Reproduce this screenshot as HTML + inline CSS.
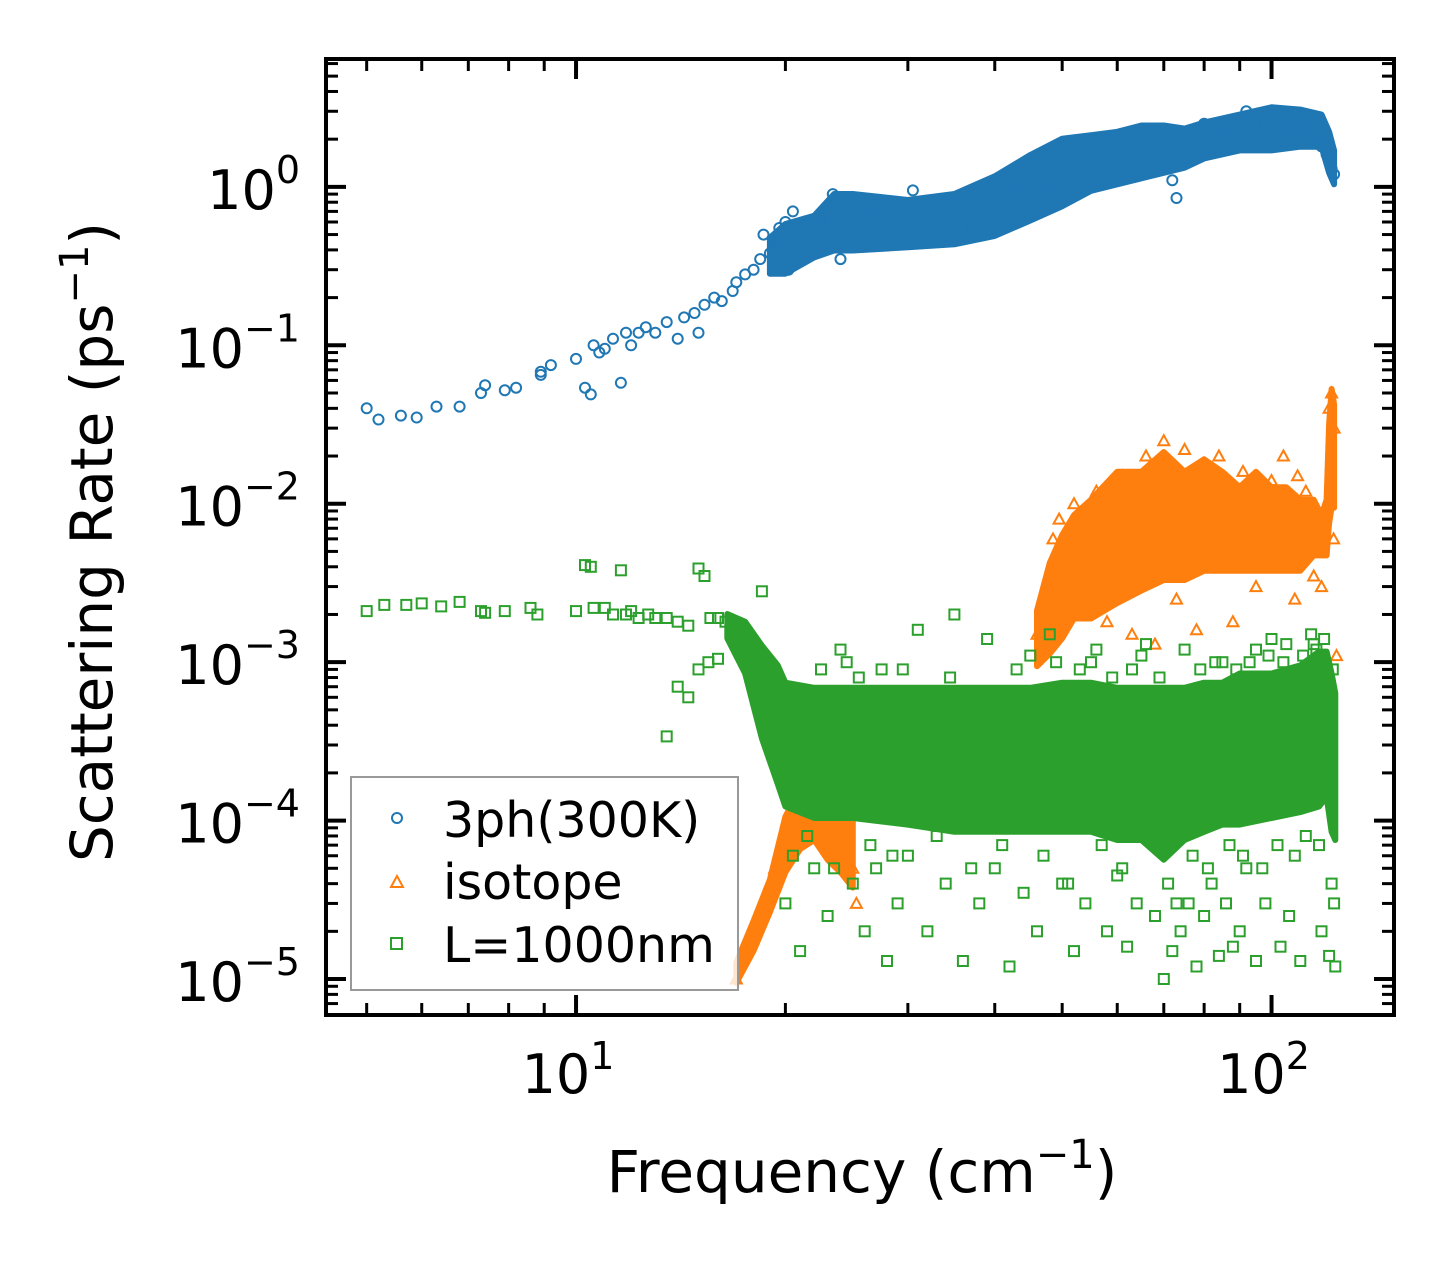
<!DOCTYPE html>
<html><head><meta charset="utf-8"><style>
html,body{margin:0;padding:0;background:#fff}
svg{display:block;font-family:"DejaVu Sans","Liberation Sans",sans-serif}
</style></head><body>
<svg id="chart" width="1455" height="1265" viewBox="0 0 1455 1265" xmlns="http://www.w3.org/2000/svg">
<defs><clipPath id="clip"><rect x="326" y="59" width="1068" height="956"/></clipPath></defs>
<rect width="1455" height="1265" fill="#fff"/>
<g id="marks" clip-path="url(#clip)"></g>
<g id="axes"></g>
<g>
<rect x="351" y="777" width="387" height="213" fill="#fff" fill-opacity="0.8" stroke="#999" stroke-width="2"/>
<circle cx="397" cy="818" r="5" fill="none" stroke="#1f77b4" stroke-width="2"/>
<text x="443" y="837" font-size="49">3ph(300K)</text>
<path d="M391 887 L397 876 L403 887 Z" fill="none" stroke="#ff7f0e" stroke-width="2"/>
<text x="443" y="899" font-size="49">isotope</text>
<rect x="391" y="938" width="11" height="11" fill="none" stroke="#2ca02c" stroke-width="2"/>
<text x="443" y="962" font-size="49">L=1000nm</text>
</g>
<text x="862" y="1192" font-size="58" text-anchor="middle">Frequency (cm<tspan dy="-24" font-size="40">−1</tspan><tspan dy="24">)</tspan></text>
<text transform="translate(112,542) rotate(-90)" font-size="58" text-anchor="middle">Scattering Rate (ps<tspan dy="-24" font-size="40">−1</tspan><tspan dy="24">)</tspan></text>
</svg>
<script>
const blueFreq=[5.0,5.2,5.6,5.9,6.3,6.8,7.3,7.4,7.9,8.2,8.9,8.9,9.2,10.0,10.3,10.5,10.6,10.8,11.0,11.3,11.6,11.8,12.0,12.3,12.6,13.0,13.5,14.0,14.3,14.8,15.0,15.3,15.8,16.2,16.8,17.0,17.5,18.0,18.4,18.6,19.0,19.3,19.6,20.0,20.2,20.5,20.8,21.0,21.5,22.0,22.5,23.0,23.4,23.8,24.0,24.5,25.0,26.0,26.5,27.0,28.0,29.0,30.0,30.5,31.0,32.0,33.0,34.0,35.0,36.0,37.0,38.0,39.0,40.0,41.0,42.0,43.0,44.0,45.0,46.0,47.0,48.0,50,52,54,55,57,58,60,62,64,65,67,70,72,73,75,78,80,82,85,88,90,92,95,98,100,103,105,108,110,113,116,118,120,122,123,121];
const blueRate=[0.040,0.034,0.036,0.035,0.041,0.041,0.050,0.056,0.052,0.054,0.065,0.068,0.075,0.082,0.054,0.049,0.10,0.09,0.095,0.11,0.058,0.12,0.10,0.12,0.13,0.12,0.14,0.11,0.15,0.16,0.12,0.18,0.20,0.19,0.22,0.25,0.28,0.30,0.35,0.50,0.38,0.45,0.55,0.60,0.30,0.70,0.45,0.40,0.50,0.45,0.60,0.70,0.90,0.55,0.35,0.60,0.65,0.55,0.70,0.75,0.65,0.70,0.60,0.95,0.55,0.70,0.50,0.60,0.65,0.80,0.55,0.70,0.60,0.75,0.90,0.85,1.0,0.80,1.2,1.0,0.95,1.1,1.2,1.5,1.4,1.7,1.3,1.2,1.5,1.8,2.0,1.6,2.2,1.9,1.1,0.85,1.8,2.2,2.5,2.0,2.3,2.1,2.5,3.0,2.6,2.4,2.8,2.5,2.2,2.6,2.3,2.4,2.0,1.8,1.6,1.3,1.2,1.5];
const blueBandFreq=[19,20,22,23.5,25,30,35,40,45,50,55,60,65,70,75,80,90,100,110,118,121,123];
const blueBandLow=[0.30,0.30,0.38,0.42,0.42,0.44,0.46,0.52,0.65,0.80,1.0,1.1,1.2,1.3,1.4,1.6,1.8,1.8,1.9,1.9,1.3,1.1];
const blueBandHigh=[0.45,0.55,0.62,0.85,0.85,0.78,0.85,1.1,1.5,1.9,2.0,2.1,2.3,2.3,2.2,2.4,2.7,3.0,2.9,2.7,2.1,1.6];

const orangeFreq=[17.0,17.3,17.6,18.0,18.3,18.6,19.0,19.3,19.6,20.0,20.3,20.6,21.0,21.5,22.0,22.5,23.0,23.5,24.0,24.5,25.0,25.3,46,47,48.5,49.5,52,56,61,66,70,72,75,80,84,91,100,104,109,112,118,121,122,123,122.8,124,58,63,68,73,78,88,95,108,115];
const orangeRate=[1e-5,1.3e-5,1.6e-5,2e-5,2.5e-5,3e-5,4e-5,5e-5,6e-5,8e-5,1e-4,1.2e-4,1.5e-4,1e-4,2e-4,1.5e-4,2.5e-4,1.2e-4,3e-4,8e-5,5e-5,3e-5,1.5e-3,1.2e-3,6e-3,8e-3,1e-2,1.2e-2,1.5e-2,2e-2,2.5e-2,1.5e-2,2.2e-2,1.8e-2,2e-2,1.6e-2,1.4e-2,2e-2,1.5e-2,1.2e-2,3e-3,4e-2,5e-2,3e-2,6e-3,1.1e-3,1.8e-3,1.5e-3,1.3e-3,2.5e-3,1.6e-3,1.8e-3,3e-3,2.5e-3,3.5e-3];
const orangeBandFreq=[17,18,19,20,21,22,23,24,25,46,48,50,52,55,60,65,70,75,80,85,90,95,100,105,110,115,118,120,121,122,123];
const orangeBandLow=[1e-5,1.6e-5,2.8e-5,5e-5,7e-5,8e-5,6e-5,5e-5,4e-5,1.0e-3,1.2e-3,1.5e-3,2e-3,2e-3,2.5e-3,3e-3,3.5e-3,3.5e-3,4e-3,4e-3,4e-3,4e-3,4e-3,4e-3,4e-3,5e-3,5e-3,5e-3,8e-3,1e-2,1e-2];
const orangeBandHigh=[1.2e-5,2.2e-5,4e-5,1e-4,1.5e-4,2e-4,2.5e-4,3e-4,3e-4,2e-3,4e-3,6e-3,8e-3,1e-2,1.5e-2,1.5e-2,2e-2,1.5e-2,1.8e-2,1.5e-2,1.2e-2,1.5e-2,1.2e-2,1.2e-2,1e-2,1e-2,8e-3,1e-2,3e-2,5e-2,4e-2];

const greenFreq=[5.0,5.3,5.7,6.0,6.4,6.8,7.3,7.4,7.9,8.6,8.8,10.0,10.3,10.5,10.6,11.0,11.3,11.6,11.8,12.0,12.3,12.7,13.0,13.5,14.0,14.5,15.0,15.3,15.6,16.0,16.4,16.8,17.2,17.6,18.0,18.5,13.5,14.0,14.5,15.0,15.5,16.0,
19.5,20.0,21,22,23,24,25,26,27,28,29,30,32,34,36,38,40,42,44,46,48,50,52,54,56,58,60,62,64,66,68,70,72,74,76,78,80,82,84,86,88,90,92,95,98,100,103,106,110,114,118,121,123,123.5,
24.5,27.5,31,35,39,45,55,65,75,85,95,105,115,
20.5,21.5,23.5,26.5,28.5,33,37,41,47,51,57,61,67,71,73,77,81,87,91,97,102,108,112,117,122,
22.5,25.5,29.5,34.5,43,49,53,59,63,69,79,83,89,93,99,104,111,116,119,122.5];
const greenRate=[2.1e-3,2.3e-3,2.3e-3,2.35e-3,2.25e-3,2.4e-3,2.1e-3,2.05e-3,2.1e-3,2.2e-3,2.0e-3,2.1e-3,4.1e-3,4.0e-3,2.2e-3,2.2e-3,2.0e-3,3.8e-3,2.0e-3,2.1e-3,1.9e-3,2.0e-3,1.9e-3,1.9e-3,1.8e-3,1.7e-3,3.9e-3,3.5e-3,1.9e-3,1.9e-3,1.8e-3,1.6e-3,1.5e-3,1.3e-3,1.2e-3,2.8e-3,3.4e-4,7e-4,6e-4,9e-4,1.0e-3,1.05e-3,
2.2e-4,3e-5,1.5e-5,5e-5,2.5e-5,1.2e-3,4e-5,2e-5,5e-5,1.3e-5,3e-5,6e-5,2e-5,4e-5,1.3e-5,3e-5,5e-5,1.2e-5,3.5e-5,2e-5,1.5e-3,4e-5,1.5e-5,3e-5,1.2e-3,2e-5,4.5e-5,1.6e-5,3e-5,1.3e-3,2.5e-5,1.0e-5,1.5e-5,2e-5,3e-5,1.2e-5,2.5e-5,4e-5,1.4e-5,3e-5,1.6e-5,2e-5,5e-5,1.3e-5,3e-5,1.4e-3,1.6e-5,2.5e-5,1.3e-5,1.5e-3,2e-5,1.4e-5,3e-5,1.2e-5,
1e-3,9e-4,1.6e-3,2e-3,1.4e-3,1.1e-3,1.0e-3,1.1e-3,1.2e-3,1.0e-3,1.2e-3,1.3e-3,1.3e-3,
6e-5,8e-5,5e-5,7e-5,6e-5,8e-5,5e-5,7e-5,6e-5,4e-5,7e-5,5e-5,8e-5,4e-5,3e-5,6e-5,5e-5,7e-5,6e-5,5e-5,7e-5,6e-5,8e-5,7e-5,4e-5,
9e-4,8e-4,9e-4,8e-4,9e-4,1e-3,9e-4,8e-4,9e-4,8e-4,9e-4,1e-3,9e-4,1e-3,1.1e-3,1e-3,1.1e-3,1.2e-3,1.4e-3,9e-4];
const greenBandFreq=[16.5,17.5,18.5,19.5,20,22,25,30,35,40,45,50,55,60,65,70,75,80,85,90,100,110,117,120,122,123.5];
const greenBandLow=[1.5e-3,9e-4,3.5e-4,1.8e-4,1.3e-4,1.1e-4,1.1e-4,1e-4,9e-5,9e-5,9e-5,9e-5,9e-5,8e-5,8e-5,6e-5,8e-5,9e-5,1e-4,1e-4,1.1e-4,1.2e-4,1.3e-4,1.5e-4,9e-5,8e-5];
const greenBandHigh=[1.9e-3,1.7e-3,1.2e-3,9e-4,7e-4,6.5e-4,6.5e-4,6.5e-4,6.5e-4,6.5e-4,6.5e-4,7e-4,7e-4,6.5e-4,6.5e-4,6.5e-4,6.5e-4,7e-4,7e-4,8e-4,8e-4,9e-4,1.1e-3,1.1e-3,8e-4,6e-4];

const NS='http://www.w3.org/2000/svg';
const X0=326,X1=1394,Y0=59,Y1=1015;
const LX0=Math.log10(4.37),LX1=Math.log10(150);
const LY0=-5.227,LY1=0.807;
function xs(v){return X0+(Math.log10(v)-LX0)/(LX1-LX0)*(X1-X0);}
function ys(v){return Y1-(Math.log10(v)-LY0)/(LY1-LY0)*(Y1-Y0);}
const marks=document.getElementById('marks');
const axes=document.getElementById('axes');
function mk(tag,attrs,parent){const e=document.createElementNS(NS,tag);for(const k in attrs)e.setAttribute(k,attrs[k]);parent.appendChild(e);return e;}
function band(fr,lo,hi,color,parent,pad){
  let segs=[[]];
  fr.forEach((f,i)=>{const s=segs[segs.length-1];if(s.length&&f/fr[i-1]>1.5)segs.push([]);segs[segs.length-1].push(i);});
  return segs.map(s=>{
    let d='';
    s.forEach((i,k)=>{d+=(k?'L':'M')+xs(fr[i]).toFixed(1)+' '+(ys(hi[i])-pad).toFixed(1);});
    for(let k=s.length-1;k>=0;k--){const i=s[k];d+='L'+xs(fr[i]).toFixed(1)+' '+(ys(lo[i])+pad).toFixed(1);}
    d+='Z';
    return mk('path',{d:d,fill:color,stroke:color,'stroke-width':6,'stroke-linejoin':'round'},parent);
  });
}
function dots(fr,val,draw,name){
  fr.forEach((f,i)=>{const v=val[i];if(v===undefined)return;const e=draw(xs(f),ys(v));
    
    });
}
band(blueBandFreq,blueBandLow,blueBandHigh,'#1f77b4',marks,4).forEach(p=>{
  
  });
dots(blueFreq,blueRate,(x,y)=>mk('circle',{cx:x.toFixed(1),cy:y.toFixed(1),r:5,fill:'none',stroke:'#1f77b4','stroke-width':2},marks),'point-3ph');
band(orangeBandFreq,orangeBandLow,orangeBandHigh,'#ff7f0e',marks,4).forEach(p=>{
  
  });
dots(orangeFreq,orangeRate,(x,y)=>mk('path',{d:`M${(x-5.5).toFixed(1)} ${(y+4.5).toFixed(1)} L${x.toFixed(1)} ${(y-5.5).toFixed(1)} L${(x+5.5).toFixed(1)} ${(y+4.5).toFixed(1)} Z`,fill:'none',stroke:'#ff7f0e','stroke-width':2},marks),'point-isotope');
band(greenBandFreq,greenBandLow,greenBandHigh,'#2ca02c',marks,4).forEach(p=>{
  
  });
dots(greenFreq,greenRate,(x,y)=>mk('rect',{x:(x-5).toFixed(1),y:(y-5).toFixed(1),width:10,height:10,fill:'none',stroke:'#2ca02c','stroke-width':2},marks),'point-boundary');

const fr=mk('rect',{x:X0,y:Y0,width:X1-X0,height:Y1-Y0,fill:'none',stroke:'#000','stroke-width':4},axes);


const xMajor=[10,100];
const xMajorLabels=['1','2'];
for(let d=0;d<3;d++){for(let m=1;m<10;m++){const v=m*Math.pow(10,d);if(v<4.37||v>150)continue;const x=xs(v);const L=(m===1)?20:12;
  const t1=mk('line',{x1:x,y1:Y1,x2:x,y2:Y1-L,stroke:'#000','stroke-width':(m===1)?4:3},axes);
  
  
  const t2=mk('line',{x1:x,y1:Y0,x2:x,y2:Y0+L,stroke:'#000','stroke-width':(m===1)?4:3},axes);
  
  
}}
xMajor.forEach((v,i)=>{
  const t=mk('text',{x:xs(v)-8,y:1093,'font-size':54,'text-anchor':'middle'},axes);
  t.textContent='10';
  const s=mk('tspan',{dy:-24,'font-size':38},t);s.textContent=xMajorLabels[i];
  
  
});
const yMajorExp=['0','−1','−2','−3','−4','−5'];
const yMajorVal=[1,0.1,0.01,0.001,1e-4,1e-5];
for(let d=-6;d<1;d++){for(let m=1;m<10;m++){const v=m*Math.pow(10,d);const y=ys(v);if(y<Y0+1||y>Y1-1)continue;const L=(m===1)?20:12;
  const t1=mk('line',{x1:X0,y1:y,x2:X0+L,y2:y,stroke:'#000','stroke-width':(m===1)?4:3},axes);
  
  
  const t2=mk('line',{x1:X1,y1:y,x2:X1-L,y2:y,stroke:'#000','stroke-width':(m===1)?4:3},axes);
  
  
}}
yMajorVal.forEach((v,i)=>{
  const t=mk('text',{x:300,y:ys(v)+22,'font-size':54,'text-anchor':'end'},axes);
  t.textContent='10';
  const s=mk('tspan',{dy:-26,'font-size':38},t);s.textContent=yMajorExp[i];
  
  
});
</script>
</body></html>
